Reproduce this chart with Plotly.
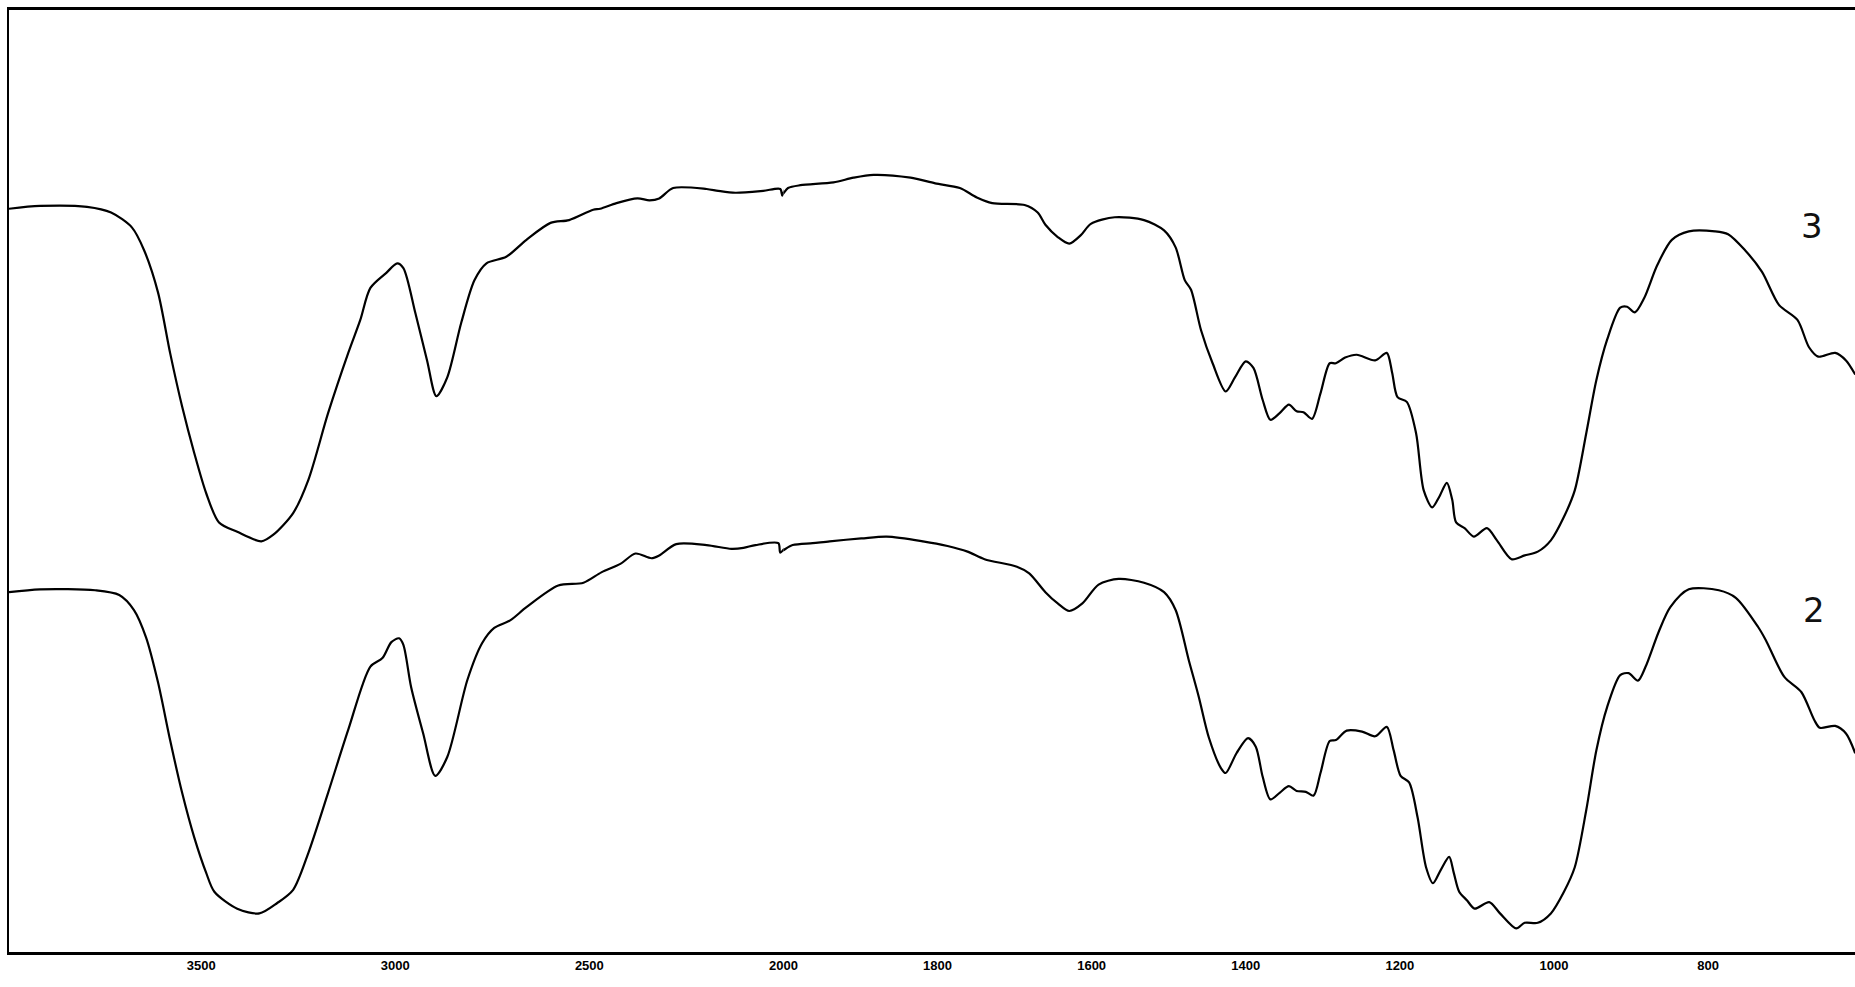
import plotly.graph_objects as go

# Wavenumbers (cm-1) and transmittance (arbitrary %)
wn3 = [3995, 3915, 3794, 3732, 3678, 3647, 3611, 3580, 3549, 3518,
       3487, 3454, 3407, 3345, 3314, 3263, 3224, 3173, 3121, 3090,
       3064, 3023, 2995, 2979, 2948, 2918, 2894, 2866, 2830, 2796,
       2765, 2714, 2662, 2600, 2552, 2490, 2472, 2430, 2376, 2345,
       2320, 2284, 2198, 2168, 2124, 2052, 2008, 2003, 1994, 1978,
       1935, 1909, 1883, 1835, 1803, 1771, 1749, 1729, 1687, 1670,
       1660, 1644, 1629, 1614, 1601, 1570, 1532, 1506, 1491, 1479,
       1471, 1458, 1443, 1426, 1414, 1400, 1390, 1378, 1368, 1356,
       1344, 1334, 1325, 1314, 1303, 1291, 1283, 1271, 1256, 1232,
       1217, 1210, 1203, 1191, 1179, 1169, 1158, 1149, 1139, 1132,
       1127, 1116, 1104, 1087, 1074, 1055, 1038, 1021, 1004, 987,
       973, 958, 945, 931, 914, 905, 895, 883, 866, 847,
       825, 791, 774, 752, 730, 708, 684, 669, 657, 635,
       621, 609]
t3 = [78.9, 79.2, 79.1, 78.5, 76.9, 74.5, 70.0, 63.6, 57.9, 53.0,
      48.7, 45.6, 44.6, 43.6, 44.3, 46.6, 50.1, 57.2, 63.6, 67.1,
      70.5, 72.1, 73.1, 72.6, 67.8, 62.8, 59.0, 61.0, 66.8, 71.3,
      73.1, 73.8, 75.6, 77.4, 77.7, 78.8, 78.9, 79.5, 80.0, 79.8,
      80.0, 81.1, 81.0, 80.8, 80.6, 80.8, 81.0, 80.3, 81.1, 81.4,
      81.7, 82.2, 82.5, 82.2, 81.6, 81.1, 80.1, 79.5, 79.3, 78.5,
      77.2, 75.9, 75.2, 76.1, 77.3, 78.0, 77.7, 76.6, 74.8, 71.3,
      70.3, 66.0, 62.5, 59.5, 61.0, 62.7, 62.0, 58.6, 56.5, 57.2,
      58.1, 57.4, 57.3, 56.6, 59.3, 62.5, 62.5, 63.1, 63.4, 62.8,
      63.6, 61.5, 58.9, 58.4, 55.1, 49.0, 47.2, 48.3, 49.8, 48.0,
      45.6, 45.0, 44.1, 45.0, 43.7, 41.7, 42.1, 42.5, 43.7, 46.2,
      49.0, 55.1, 60.7, 65.0, 68.4, 68.5, 67.9, 69.4, 72.9, 75.6,
      76.5, 76.5, 76.2, 74.5, 72.2, 68.7, 67.1, 64.2, 63.2, 63.6,
      62.8, 61.3]

wn2 = [3995, 3915, 3773, 3711, 3673, 3642, 3611, 3580, 3549, 3518,
       3487, 3466, 3407, 3350, 3304, 3263, 3224, 3173, 3121, 3064,
       3033, 3010, 2990, 2979, 2959, 2928, 2897, 2866, 2814, 2776,
       2745, 2704, 2662, 2580, 2515, 2469, 2420, 2381, 2340, 2320,
       2276, 2198, 2134, 2103, 2072, 2013, 2008, 1988, 1962, 1940,
       1899, 1866, 1819, 1787, 1761, 1739, 1697, 1681, 1660, 1644,
       1629, 1612, 1591, 1565, 1532, 1506, 1491, 1474, 1461, 1448,
       1432, 1426, 1412, 1397, 1387, 1378, 1368, 1356, 1344, 1334,
       1322, 1312, 1303, 1291, 1283, 1269, 1249, 1232, 1217, 1208,
       1199, 1188, 1177, 1166, 1157, 1147, 1136, 1130, 1123, 1113,
       1103, 1084, 1070, 1049, 1038, 1021, 1004, 987, 973, 958,
       945, 931, 914, 903, 891, 881, 864, 849, 825, 786,
       764, 735, 725, 701, 679, 662, 655, 635, 621, 609]
t2 = [38.2, 38.5, 38.4, 37.9, 36.3, 33.4, 28.6, 22.5, 16.9, 12.2,
      8.4, 6.4, 4.6, 4.1, 5.2, 6.6, 10.5, 16.9, 23.6, 30.3,
      31.2, 32.9, 33.3, 32.6, 28.1, 23.2, 18.7, 20.7, 28.9, 32.8,
      34.4, 35.2, 36.6, 38.9, 39.2, 40.3, 41.2, 42.3, 41.8, 42.1,
      43.3, 43.2, 42.8, 42.9, 43.2, 43.4, 42.4, 43.2, 43.4, 43.6,
      43.9, 44.1, 43.6, 43.1, 42.5, 41.7, 40.9, 40.2, 38.2, 37.0,
      36.2, 37.0, 39.0, 39.6, 39.2, 38.2, 36.3, 31.0, 27.1, 22.8,
      19.5, 19.0, 21.1, 22.7, 21.8, 18.6, 16.2, 16.9, 17.6, 17.1,
      17.0, 16.6, 19.0, 22.4, 22.5, 23.5, 23.4, 22.9, 23.9, 21.4,
      18.7, 18.0, 14.3, 9.0, 7.3, 8.7, 10.1, 8.4, 6.4, 5.5,
      4.6, 5.3, 4.1, 2.5, 3.1, 3.1, 4.1, 6.4, 9.0, 15.1,
      21.4, 26.0, 29.4, 29.6, 28.8, 30.3, 34.0, 36.6, 38.5, 38.4,
      37.6, 34.5, 33.1, 29.2, 27.6, 24.6, 23.8, 24.0, 23.2, 21.1]

series_labels = ["3", "2"]
label_pos_wn = [665, 662]
label_pos_t = [77.1, 36.3]

ticks_high = [3500, 3000, 2500, 2000]
ticks_low = [1800, 1600, 1400, 1200, 1000, 800]

W, H = 1870, 987
ml, mr, mt, mb = 9, 0, 10, 35
split = (783 - ml) / (1855 - ml)

fig = go.Figure()
line = dict(color="black", width=2.2, shape="spline", smoothing=0.8)
for wn, t in [(wn3, t3), (wn2, t2)]:
    fig.add_trace(go.Scatter(x=wn, y=t, mode="lines", line=line, xaxis="x", yaxis="y",
                             hoverinfo="skip", showlegend=False))
    fig.add_trace(go.Scatter(x=wn, y=t, mode="lines", line=line, xaxis="x2", yaxis="y",
                             hoverinfo="skip", showlegend=False))

for lab, xw, yt in zip(series_labels, label_pos_wn, label_pos_t):
    fig.add_annotation(x=xw, y=yt, xref="x2", yref="y", text=lab, showarrow=False,
                       font=dict(family="DejaVu Sans", size=34, color="#111"))

tickfont = dict(family="Liberation Sans", size=13, color="black")
fig.update_layout(
    width=W, height=H, autosize=False,
    margin=dict(l=ml, r=mr, t=mt, b=mb),
    paper_bgcolor="white", plot_bgcolor="white",
    xaxis=dict(domain=[0, split], range=[3995, 2000], tickvals=ticks_high,
               ticktext=["<b>%d</b>" % v for v in ticks_high], showgrid=False, zeroline=False,
               showline=True, mirror=True, linecolor="black", linewidth=2.5,
               ticks="", tickfont=tickfont, anchor="y"),
    xaxis2=dict(domain=[split, 1], range=[2000, 608], tickvals=ticks_low,
                ticktext=["<b>%d</b>" % v for v in ticks_low], showgrid=False, zeroline=False,
                showline=True, mirror=True, linecolor="black", linewidth=2.5,
                ticks="", tickfont=tickfont, anchor="y"),
    yaxis=dict(range=[0, 100], showgrid=False, zeroline=False, showticklabels=False,
               showline=True, linecolor="black", linewidth=2, ticks="", anchor="x"),
)

fig.write_html("out.html")
